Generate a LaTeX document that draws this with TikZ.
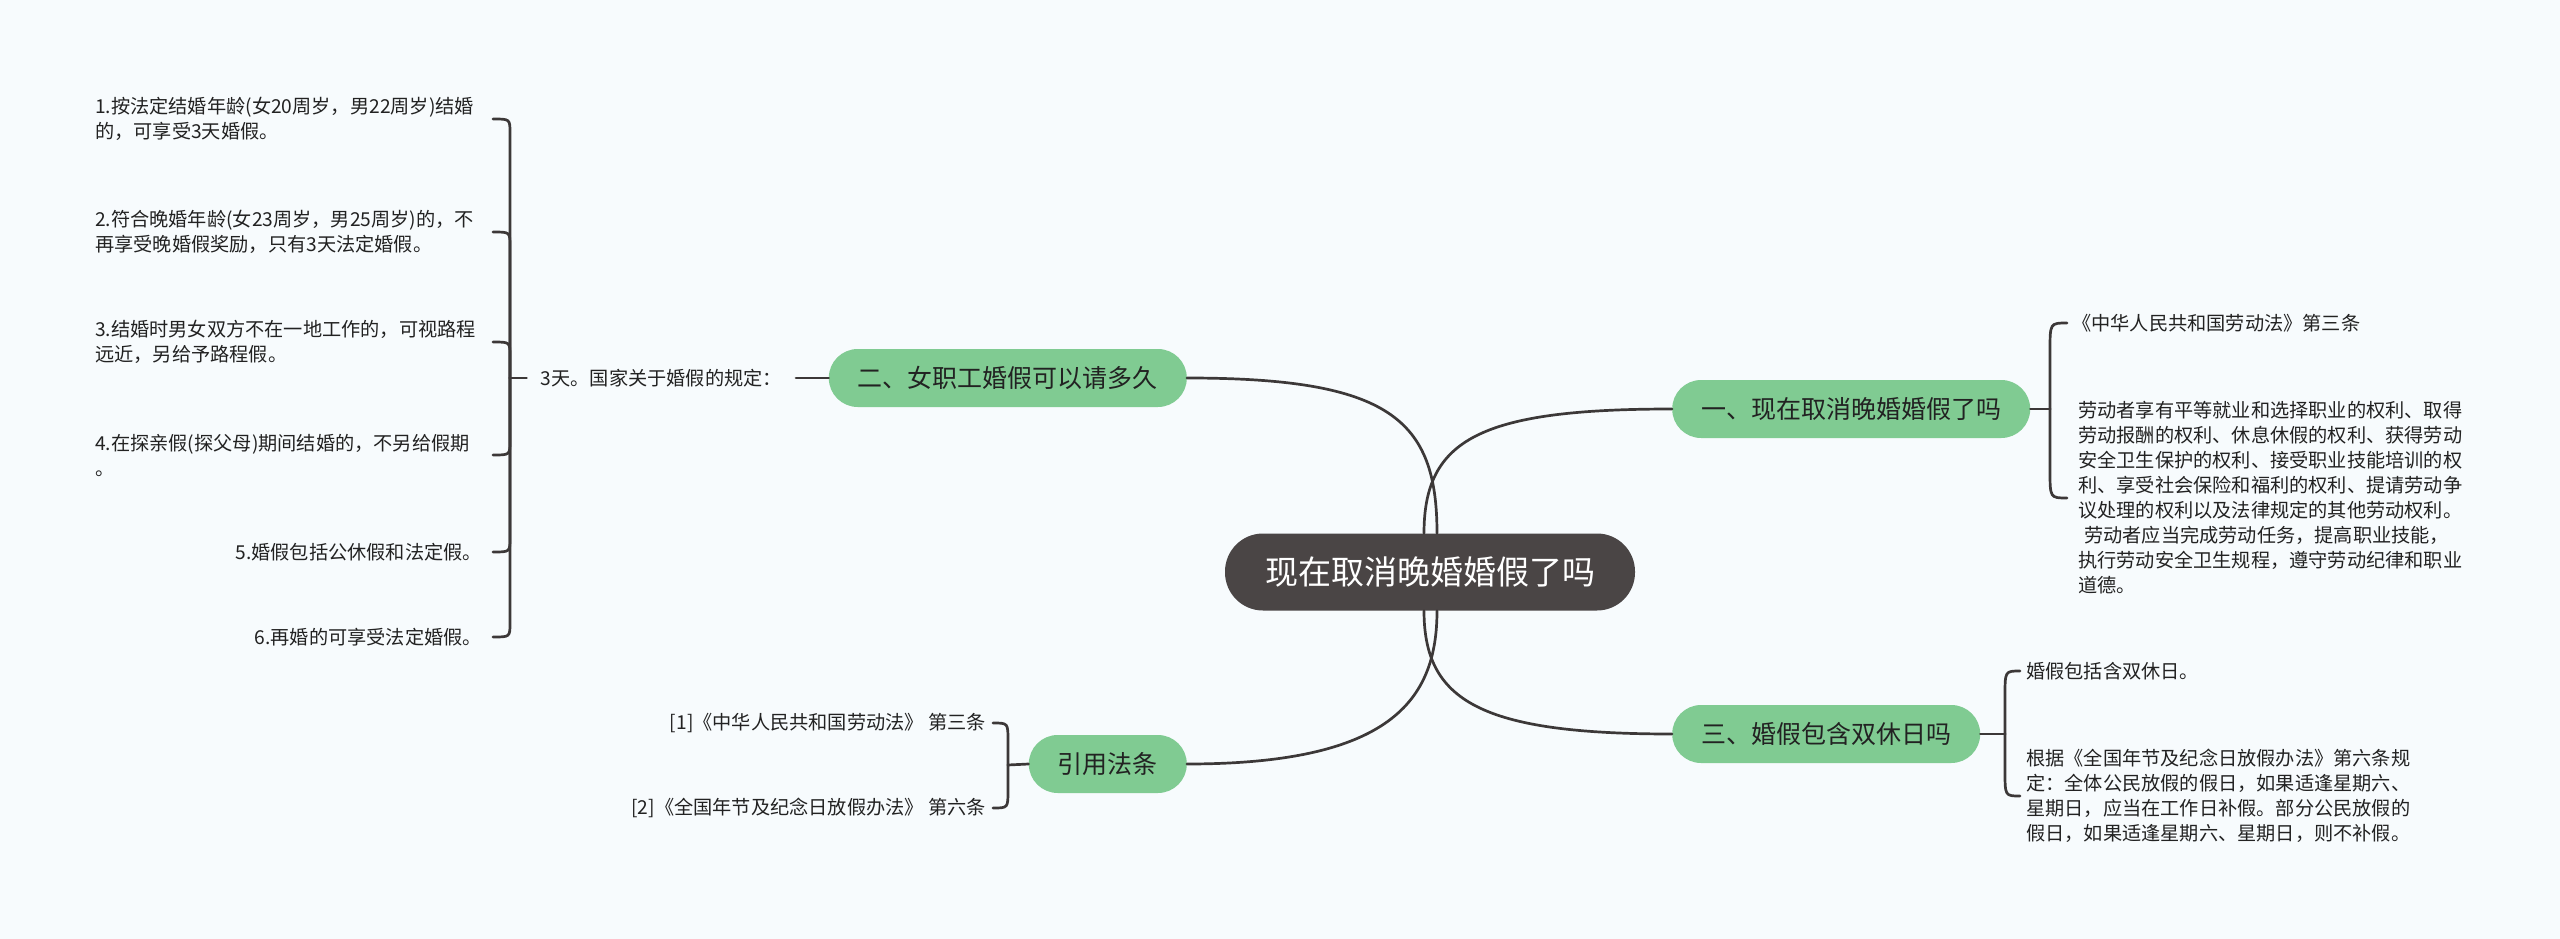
\documentclass[tikz,border=0pt]{standalone}
\usepackage{fontspec}
\setmainfont{Noto Sans CJK SC}
\usetikzlibrary{calc}
\definecolor{bg}{HTML}{F7FBFD}
\definecolor{grn}{HTML}{80CB92}
\definecolor{ctr}{HTML}{4A4545}
\definecolor{ln}{HTML}{3C3838}
\definecolor{txt}{HTML}{222222}
\begin{document}
\begin{tikzpicture}[x=1pt,y=-1pt,
  conn/.style={draw=ln,line width=2.7pt,line cap=round},
  topic/.style={fill=grn,rounded corners=28.9pt,minimum height=58pt,inner xsep=29pt,inner ysep=0pt,text=txt,font=\fontsize{25}{30}\selectfont},
  central/.style={fill=ctr,rounded corners=38pt,minimum height=77pt,inner xsep=40pt,inner ysep=0pt,text=white,font=\fontsize{33}{40}\selectfont},
  leaf/.style={inner sep=0pt,text=txt,font=\fontsize{19.2}{25}\selectfont,align=left},
]
\fill[bg] (0,0) rectangle (2560,939);
\useasboundingbox (0,0) rectangle (2560,939);

% main nodes
\node[central] (c) at (1430,572) {现在取消晚婚婚假了吗};
\node[topic,anchor=west] (n1) at (1672,409) {一、现在取消晚婚婚假了吗};
\node[topic,anchor=east] (n2) at (1187,378) {二、女职工婚假可以请多久};
\node[topic,anchor=west] (n3) at (1672,734) {三、婚假包含双休日吗};
\node[topic,anchor=east] (n4) at (1187,764) {引用法条};

% central connectors
\draw[conn] (n2.east) .. controls (1390,378) and ($(c.north)+(7,-114)$) .. ($(c.north)+(7,0)$);
\draw[conn] (n1.west) .. controls (1480,409) and ($(c.north)+(-6,-94)$) .. ($(c.north)+(-6,0)$);
\draw[conn] (n3.west) .. controls (1480,734) and ($(c.south)+(-6,90)$) .. ($(c.south)+(-6,0)$);
\draw[conn] (n4.east) .. controls (1390,764) and ($(c.south)+(7,90)$) .. ($(c.south)+(7,0)$);

% group 2 (left)
\node[leaf,inner xsep=14pt,anchor=east] (t2) at (796,378) {3天。国家关于婚假的规定：};
\coordinate (k2) at (510,378);
\node[leaf,anchor=west] (l1) at (95,119) {1.按法定结婚年龄(女20周岁，男22周岁)结婚\\的，可享受3天婚假。};
\node[leaf,anchor=west] (l2) at (95,232) {2.符合晚婚年龄(女23周岁，男25周岁)的，不\\再享受晚婚假奖励，只有3天法定婚假。};
\node[leaf,anchor=west] (l3) at (95,342) {3.结婚时男女双方不在一地工作的，可视路程\\远近，另给予路程假。};
\node[leaf,anchor=west] (l4) at (95,455) {4.在探亲假(探父母)期间结婚的，不另给假期\\。};
\node[leaf,anchor=east] (l5) at (482,552) {5.婚假包括公休假和法定假。};
\node[leaf,anchor=east] (l6) at (482,637) {6.再婚的可享受法定婚假。};
\draw[conn] (n2.west) -- (t2.east);
\draw[conn] (t2.west) -- (k2);
\draw[conn] ($(k2|-l1)+(-17,0)$) .. controls (k2|-l1) .. ($(k2|-l1)+(0,14)$) -- (k2);
\draw[conn] ($(k2|-l2)+(-17,0)$) .. controls (k2|-l2) .. ($(k2|-l2)+(0,14)$) -- (k2);
\draw[conn] ($(k2|-l3)+(-17,0)$) .. controls (k2|-l3) .. ($(k2|-l3)+(0,14)$) -- (k2);
\draw[conn] ($(k2|-l4)+(-17,0)$) .. controls (k2|-l4) .. ($(k2|-l4)+(0,-14)$) -- (k2);
\draw[conn] ($(k2|-l5)+(-17,0)$) .. controls (k2|-l5) .. ($(k2|-l5)+(0,-14)$) -- (k2);
\draw[conn] ($(k2|-l6)+(-17,0)$) .. controls (k2|-l6) .. ($(k2|-l6)+(0,-14)$) -- (k2);

% group 4 (left bottom)
\coordinate (k4) at (1008,765);
\node[leaf,anchor=east] (q1) at (986,723) {[1]《中华人民共和国劳动法》 第三条};
\node[leaf,anchor=east] (q2) at (986,808) {[2]《全国年节及纪念日放假办法》 第六条};
\draw[conn] (n4.west) -- (k4);
\draw[conn] ($(k4|-q1)+(-15,0)$) .. controls (k4|-q1) .. ($(k4|-q1)+(0,18)$) -- (k4);
\draw[conn] ($(k4|-q2)+(-15,0)$) .. controls (k4|-q2) .. ($(k4|-q2)+(0,-18)$) -- (k4);

% group 1 (right top)
\coordinate (k1) at (2050,409);
\node[leaf,anchor=west] (r1) at (2072,323) {《中华人民共和国劳动法》第三条};
\node[leaf,anchor=west] (r2) at (2078,498) {劳动者享有平等就业和选择职业的权利、取得\\劳动报酬的权利、休息休假的权利、获得劳动\\安全卫生保护的权利、接受职业技能培训的权\\利、享受社会保险和福利的权利、提请劳动争\\议处理的权利以及法律规定的其他劳动权利。\\\hspace*{6pt}劳动者应当完成劳动任务，提高职业技能，\\执行劳动安全卫生规程，遵守劳动纪律和职业\\道德。};
\draw[conn] (n1.east) -- (k1);
\draw[conn] ($(k1|-r1)+(17,0)$) .. controls (k1|-r1) .. ($(k1|-r1)+(0,28)$) -- (k1);
\draw[conn] ($(k1|-r2)+(17,0)$) .. controls (k1|-r2) .. ($(k1|-r2)+(0,-28)$) -- (k1);

% group 3 (right bottom)
\coordinate (k3) at (2005,734);
\node[leaf,anchor=west] (r3) at (2026,671) {婚假包括含双休日。};
\node[leaf,anchor=west] (r4) at (2026,796) {根据《全国年节及纪念日放假办法》第六条规\\定：全体公民放假的假日，如果适逢星期六、\\星期日，应当在工作日补假。部分公民放假的\\假日，如果适逢星期六、星期日，则不补假。};
\draw[conn] (n3.east) -- (k3);
\draw[conn] ($(k3|-r3)+(15,0)$) .. controls (k3|-r3) .. ($(k3|-r3)+(0,25)$) -- (k3);
\draw[conn] ($(k3|-r4)+(15,0)$) .. controls (k3|-r4) .. ($(k3|-r4)+(0,-25)$) -- (k3);
\end{tikzpicture}
\end{document}
